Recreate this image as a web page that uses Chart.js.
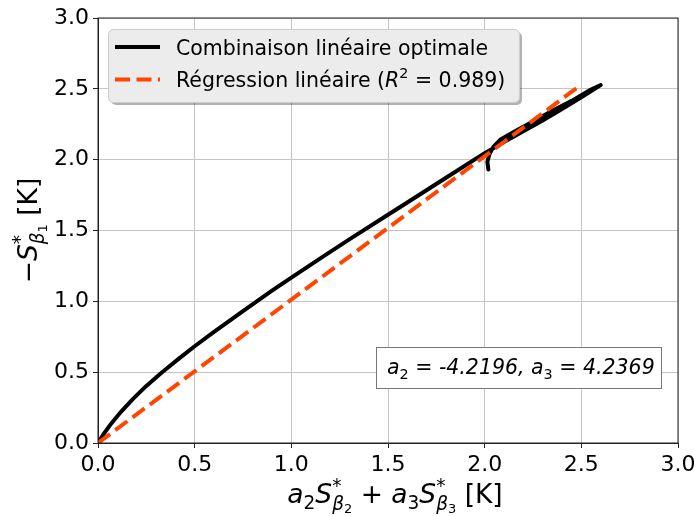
<!DOCTYPE html>
<html>
<head>
<meta charset="utf-8">
<script src="https://cdn.jsdelivr.net/npm/chart.js@4/dist/chart.umd.min.js"></script>
<style>
  body { margin: 0; background: #fff; }
  #wrap { width: 694px; height: 516px; }
</style>
</head>
<body>
<div id="wrap"><canvas id="chart" width="694" height="516"></canvas></div>
<script>
// combined curve (goes out to the tip and comes back)
const comboX = [0, 0.03, 0.07, 0.12, 0.18, 0.25, 0.33, 0.42, 0.5, 0.6, 0.75, 0.9, 1.0, 1.15, 1.3, 1.5, 1.62, 1.8, 2.0,
  2.1, 2.2, 2.3, 2.4, 2.5, 2.6,
  2.55, 2.45, 2.35, 2.25, 2.15, 2.08, 2.045, 2.025, 2.014, 2.019];
const comboY = [0, 0.065, 0.14, 0.222, 0.31, 0.403, 0.498, 0.597, 0.683, 0.785, 0.931, 1.075, 1.167, 1.303, 1.437, 1.611, 1.715, 1.872, 2.046,
  2.125, 2.2, 2.277, 2.357, 2.44, 2.526,
  2.495, 2.415, 2.345, 2.27, 2.195, 2.14, 2.09, 2.04, 1.985, 1.93];

// linear fit
const fitX = [0, 2.5];
const fitY = [0, 2.53];

const AXIS_MIN = 0;
const AXIS_MAX = 3;
const TICK_STEP = 0.5;

const LABELS = ["Combinaison linéaire optimale", "Régression linéaire (R² = 0.989)"];
const FONT = '"DejaVu Sans", "Liberation Sans", sans-serif';

// rich text pieces: t = text, it = italic, sc = scale, dy = shift (em), keep = no advance
const legendParts = [
  [{ t: "Combinaison linéaire optimale" }],
  [{ t: "Régression linéaire (" }, { t: "R", it: true }, { t: "2", sc: 0.7, dy: -0.42 }, { t: " = 0.989)" }],
];
const annotParts = [
  { t: "a", it: true }, { t: "2", sc: 0.7, dy: 0.22 }, { t: " = " }, { t: "-4.2196, ", it: true },
  { t: "a", it: true }, { t: "3", sc: 0.7, dy: 0.22 }, { t: " = " }, { t: "4.2369", it: true },
];
const xTitleParts = [
  { t: "a", it: true }, { t: "2", sc: 0.7, dy: 0.22 },
  { t: "S", it: true }, { t: "*", sc: 0.7, dy: -0.42, keep: true },
  { t: "β", it: true, sc: 0.7, dy: 0.25 }, { t: "2", sc: 0.49, dy: 0.38 },
  { t: " + " },
  { t: "a", it: true }, { t: "3", sc: 0.7, dy: 0.22 },
  { t: "S", it: true }, { t: "*", sc: 0.7, dy: -0.42, keep: true },
  { t: "β", it: true, sc: 0.7, dy: 0.25 }, { t: "3", sc: 0.49, dy: 0.38 },
  { t: " [K]" },
];
const yTitleParts = [
  { t: "−" }, { t: "S", it: true }, { t: "*", sc: 0.7, dy: -0.42, keep: true },
  { t: "β", it: true, sc: 0.7, dy: 0.25 }, { t: "1", sc: 0.49, dy: 0.38 },
  { t: " [K]" },
];

const fontOf = (p, size) => (p.it ? "italic " : "") + (size * (p.sc || 1)).toFixed(2) + "px " + FONT;

const measureRich = (ctx, parts, size) => {
  let w = 0;
  parts.forEach((p) => {
    ctx.font = fontOf(p, size);
    if (!p.keep) w += ctx.measureText(p.t).width;
  });
  return w;
};

const drawRich = (ctx, parts, x, y, size, align) => {
  let cx = x;
  if (align === "center") cx = x - measureRich(ctx, parts, size) / 2;
  ctx.textAlign = "left";
  ctx.textBaseline = "alphabetic";
  parts.forEach((p) => {
    ctx.font = fontOf(p, size);
    ctx.fillText(p.t, cx, y + (p.dy || 0) * size);
    if (!p.keep) cx += ctx.measureText(p.t).width;
  });
};

const roundRect = (ctx, x, y, w, h, r) => {
  ctx.beginPath();
  ctx.moveTo(x + r, y);
  ctx.arcTo(x + w, y, x + w, y + h, r);
  ctx.arcTo(x + w, y + h, x, y + h, r);
  ctx.arcTo(x, y + h, x, y, r);
  ctx.arcTo(x, y, x + w, y, r);
  ctx.closePath();
};

const decor = {
  id: "decor",
  afterDatasetsDraw(chart) {
    const { ctx, chartArea: a } = chart;
    ctx.save();
    ctx.strokeStyle = "#222";
    ctx.lineWidth = 1;
    ctx.strokeRect(a.left, a.top, a.right - a.left, a.bottom - a.top);
    ctx.restore();
  },
  afterDraw(chart) {
    const { ctx, chartArea: a } = chart;
    ctx.save();

    // legend box with shadow
    ctx.fillStyle = "rgba(0,0,0,0.3)";
    roundRect(ctx, 111, 32, 411, 73, 5);
    ctx.fill();
    ctx.fillStyle = "#ececec";
    ctx.strokeStyle = "#cccccc";
    ctx.lineWidth = 1;
    roundRect(ctx, 108.5, 29.5, 411, 73, 5);
    ctx.fill();
    ctx.stroke();

    chart.data.datasets.forEach((ds) => {
      const row = ds.legendRow;
      const ly = 47 + row * 32.5;
      ctx.strokeStyle = ds.borderColor;
      ctx.lineWidth = ds.borderWidth;
      ctx.setLineDash(ds.borderDash || []);
      ctx.lineCap = "butt";
      ctx.beginPath();
      ctx.moveTo(115, ly);
      ctx.lineTo(160, ly);
      ctx.stroke();
      ctx.setLineDash([]);
      ctx.fillStyle = "#000";
      drawRich(ctx, legendParts[row], 176, ly + 7.5, 20.5, "left");
    });

    // coefficient box
    ctx.fillStyle = "#fff";
    ctx.strokeStyle = "#777";
    ctx.lineWidth = 1;
    ctx.fillRect(376.5, 347.5, 285, 41);
    ctx.strokeRect(376.5, 347.5, 285, 41);
    ctx.fillStyle = "#000";
    drawRich(ctx, annotParts, 387, 374, 20.5, "left");

    // axis titles
    drawRich(ctx, xTitleParts, (a.left + a.right) / 2 + 7, 503, 26.5, "center");
    ctx.translate(37, (a.top + a.bottom) / 2);
    ctx.rotate(-Math.PI / 2);
    drawRich(ctx, yTitleParts, 0, 0, 26.5, "center");
    ctx.restore();
  },
};

const toPoints = (xs, ys) => xs.map((x, i) => ({ x: x, y: ys[i] }));

const axis = (fit) => ({
  type: "linear",
  min: AXIS_MIN,
  max: AXIS_MAX,
  afterFit: fit,
  border: { display: true, color: "#222", width: 1 },
  grid: { color: "#c4c4c4", lineWidth: 1, tickLength: 5, tickColor: "#222" },
  ticks: {
    stepSize: TICK_STEP,
    color: "#000",
    padding: 4,
    maxRotation: 0,
    font: { family: FONT, size: 22 },
    callback: (v) => v.toFixed(1),
  },
});

const config = {
  type: "scatter",
  data: {
    datasets: [
      {
        label: LABELS[0],
        legendRow: 0,
        data: toPoints(comboX, comboY),
        showLine: true,
        borderColor: "#000",
        borderWidth: 4,
        borderJoinStyle: "round",
        borderCapStyle: "round",
        pointRadius: 0,
        tension: 0,
        order: 1,
      },
      {
        label: LABELS[1],
        legendRow: 1,
        data: toPoints(fitX, fitY),
        showLine: true,
        borderColor: "#ff4500",
        borderWidth: 4,
        borderDash: [15, 6.5],
        pointRadius: 0,
        tension: 0,
        order: 0,
      },
    ],
  },
  options: {
    responsive: false,
    animation: false,
    layout: { padding: { top: 18, right: 16, left: 0, bottom: 0 } },
    plugins: {
      legend: { display: false },
      tooltip: { enabled: false },
    },
    scales: {
      x: axis((s) => { s.height = 73; s.paddingLeft = 0; s.paddingRight = 0; }),
      y: axis((s) => { s.width = 98; s.paddingTop = 0; s.paddingBottom = 0; }),
    },
  },
  plugins: [decor],
};

new Chart(document.getElementById("chart"), config);
</script>
</body>
</html>
